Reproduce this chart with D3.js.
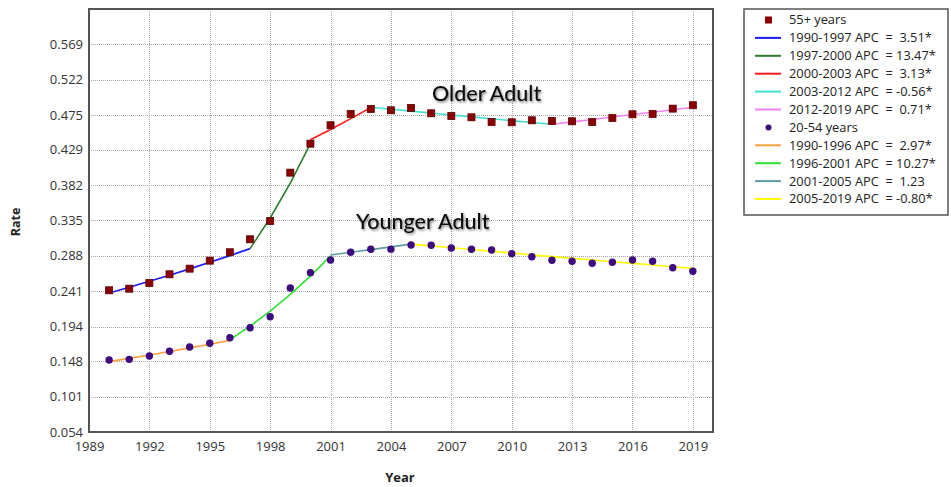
<!DOCTYPE html>
<html>
<head>
<meta charset="utf-8">
<script src="https://cdn.jsdelivr.net/npm/d3@7/dist/d3.min.js"></script>
<style>
  body { margin: 0; background: #fff; }
  svg { display: block; }
  text { font-family: "Open Sans", "Noto Sans", sans-serif; }
</style>
</head>
<body>
<svg id="chart" width="951" height="487"></svg>
<script>
// ---- Data ---------------------------------------------------------------
const years = [1990, 1991, 1992, 1993, 1994, 1995, 1996, 1997, 1998, 1999,
               2000, 2001, 2002, 2003, 2004, 2005, 2006, 2007, 2008, 2009,
               2010, 2011, 2012, 2013, 2014, 2015, 2016, 2017, 2018, 2019];

// Observed rates, 55+ years
const olderRates = [0.2422, 0.2443, 0.2519, 0.2634, 0.2709, 0.2815, 0.2927, 0.3099, 0.3342, 0.3984,
                    0.4369, 0.4613, 0.4763, 0.4830, 0.4812, 0.4843, 0.4772, 0.4736, 0.4719, 0.4657,
                    0.4653, 0.4679, 0.4670, 0.4666, 0.4657, 0.4710, 0.4759, 0.4763, 0.4834, 0.4879];

// Observed rates, 20-54 years
const youngerRates = [0.1496, 0.1505, 0.1549, 0.1612, 0.1669, 0.1718, 0.1792, 0.1925, 0.2071, 0.2452,
                      0.2656, 0.2824, 0.2927, 0.2966, 0.2968, 0.3024, 0.3019, 0.2984, 0.2966, 0.2957,
                      0.2908, 0.2868, 0.2820, 0.2807, 0.2780, 0.2794, 0.2824, 0.2807, 0.2722, 0.2674];

// Joinpoint segments, 55+ years
const olderSegYears = [[1990, 1997], [1997, 2000], [2000, 2003], [2003, 2012], [2012, 2019]];
const olderSegApc = ["3.51*", "13.47*", "3.13*", "-0.56*", "0.71*"];
const olderSegFit = [
  [0.2386, 0.2462, 0.2541, 0.2622, 0.2706, 0.2793, 0.2882, 0.2975],
  [0.2975, 0.3382, 0.3844, 0.4369],
  [0.4420, 0.4558, 0.4701, 0.4848],
  [0.4852, 0.4826, 0.4801, 0.4775, 0.4750, 0.4724, 0.4699, 0.4675, 0.4650, 0.4626],
  [0.4626, 0.4658, 0.4690, 0.4722, 0.4755, 0.4787, 0.4820, 0.4853]
];

// Joinpoint segments, 20-54 years
const youngerSegYears = [[1990, 1996], [1996, 2001], [2001, 2005], [2005, 2019]];
const youngerSegApc = ["2.97*", "10.27*", "1.23", "-0.80*"];
const youngerSegFit = [
  [0.1474, 0.1518, 0.1563, 0.1609, 0.1657, 0.1706, 0.1757],
  [0.1765, 0.1946, 0.2146, 0.2367, 0.2610, 0.2878],
  [0.2890, 0.2926, 0.2962, 0.2998, 0.3035],
  [0.3035, 0.3011, 0.2987, 0.2963, 0.2939, 0.2916, 0.2892, 0.2869, 0.2846, 0.2824,
   0.2801, 0.2779, 0.2757, 0.2735, 0.2713]
];

const xTicks = [1989, 1992, 1995, 1998, 2001, 2004, 2007, 2010, 2013, 2016, 2019];
const yTicks = [0.054, 0.101, 0.148, 0.194, 0.241, 0.288, 0.335, 0.382, 0.429, 0.475, 0.522, 0.569];
const xDomain = [1989, 2020];
const yDomain = [0.054, 0.6157];

const olderName = "55+ years";
const youngerName = "20-54 years";

// ---- Styles -------------------------------------------------------------
const olderLineColors = ["#1a1aff", "#2e7d2e", "#ff1a1a", "#40e0d0", "#ee82ee"];
const youngerLineColors = ["#ffa040", "#33e033", "#5f9ea0", "#ffff00"];
const olderMarkColor = "#8b0000";
const youngerMarkColor = "#3d0a80";

// ---- Layout -------------------------------------------------------------
const plot = { left: 89, top: 9, right: 713, bottom: 432 };
const svg = d3.select("#chart");

const x = d3.scaleLinear().domain(xDomain).range([plot.left, plot.right]);
const y = d3.scaleLinear().domain(yDomain).range([plot.bottom, plot.top]);

const defs = svg.append("defs");
const shadow = defs.append("filter").attr("id", "soft-shadow")
  .attr("x", "-10%").attr("y", "-30%").attr("width", "130%").attr("height", "170%");
shadow.append("feDropShadow").attr("dx", 1.2).attr("dy", 1.5)
  .attr("stdDeviation", 1.3).attr("flood-color", "#000").attr("flood-opacity", 0.5);

// plot background
svg.append("rect")
  .attr("x", plot.left).attr("y", plot.top)
  .attr("width", plot.right - plot.left).attr("height", plot.bottom - plot.top)
  .attr("fill", "#fff");

// grid
const grid = svg.append("g").attr("class", "grid");
grid.selectAll("line.gx").data(xTicks.filter(d => d > xDomain[0])).join("line")
  .attr("class", "gx")
  .attr("x1", d => Math.round(x(d)) + 0.5).attr("x2", d => Math.round(x(d)) + 0.5)
  .attr("y1", plot.top).attr("y2", plot.bottom)
  .attr("stroke", "#a8a8a8").attr("stroke-width", 1).attr("stroke-dasharray", "1,1");
grid.selectAll("line.gy").data(yTicks.filter(d => d > yDomain[0])).join("line")
  .attr("class", "gy")
  .attr("y1", d => Math.round(y(d)) + 0.5).attr("y2", d => Math.round(y(d)) + 0.5)
  .attr("x1", plot.left).attr("x2", plot.right)
  .attr("stroke", "#a8a8a8").attr("stroke-width", 1).attr("stroke-dasharray", "1,1");

// axes (labels only; frame drawn separately)
const xAxis = d3.axisBottom(x).tickValues(xTicks).tickFormat(d3.format("d")).tickSize(0).tickPadding(10);
const yAxis = d3.axisLeft(y).tickValues(yTicks).tickFormat(d3.format(".3f")).tickSize(0).tickPadding(6);

const gx = svg.append("g").attr("transform", `translate(0,${plot.bottom})`).call(xAxis);
const gy = svg.append("g").attr("transform", `translate(${plot.left},0)`).call(yAxis);
[gx, gy].forEach(g => {
  g.select(".domain").remove();
  g.selectAll("text").attr("fill", "#333").style("font-size", "13px")
    .style("font-family", "'Open Sans', 'Noto Sans', sans-serif");
});

// frame
svg.append("rect")
  .attr("x", plot.left).attr("y", plot.top)
  .attr("width", plot.right - plot.left).attr("height", plot.bottom - plot.top)
  .attr("fill", "none").attr("stroke", "#555").attr("stroke-width", 2);

// fitted segments
const line = d3.line().x(d => x(d[0])).y(d => y(d[1]));
function segPoints(range, fit) {
  const yrs = years.filter(t => t >= range[0] && t <= range[1]);
  return yrs.map((t, i) => [t, fit[i]]);
}
const fits = svg.append("g").attr("fill", "none").attr("stroke-width", 1.6);
olderSegYears.forEach((r, i) => {
  fits.append("path").datum(segPoints(r, olderSegFit[i])).attr("d", line).attr("stroke", olderLineColors[i]);
});
youngerSegYears.forEach((r, i) => {
  fits.append("path").datum(segPoints(r, youngerSegFit[i])).attr("d", line).attr("stroke", youngerLineColors[i]);
});

// observed points
const sq = 7;
svg.append("g").selectAll("rect").data(years.map((t, i) => [t, olderRates[i]])).join("rect")
  .attr("x", d => x(d[0]) - sq / 2).attr("y", d => y(d[1]) - sq / 2)
  .attr("width", sq).attr("height", sq)
  .attr("fill", olderMarkColor).attr("stroke", "#5a0000").attr("stroke-width", 0.8);
svg.append("g").selectAll("circle").data(years.map((t, i) => [t, youngerRates[i]])).join("circle")
  .attr("cx", d => x(d[0])).attr("cy", d => y(d[1])).attr("r", 3.7)
  .attr("fill", youngerMarkColor);

// group annotations
svg.append("text").attr("x", 432).attr("y", 101).text("Older Adult")
  .style("font-family", "Lato, 'Open Sans', sans-serif").style("font-size", "21.5px")
  .style("font-weight", 500).attr("fill", "#111").attr("filter", "url(#soft-shadow)");
svg.append("text").attr("x", 356).attr("y", 229).text("Younger Adult")
  .style("font-family", "Lato, 'Open Sans', sans-serif").style("font-size", "21.5px")
  .style("font-weight", 500).attr("fill", "#111").attr("filter", "url(#soft-shadow)");

// axis titles
svg.append("text").attr("x", 400).attr("y", 482).attr("text-anchor", "middle")
  .style("font-size", "13px").style("font-weight", 700).attr("fill", "#222").text("Year");
svg.append("text").attr("transform", "translate(20,222) rotate(-90)").attr("text-anchor", "middle")
  .style("font-size", "12.5px").style("font-weight", 700).attr("fill", "#222").text("Rate");

// legend
const lg = svg.append("g");
lg.append("rect").attr("x", 744).attr("y", 9).attr("width", 204).attr("height", 206)
  .attr("fill", "#fff").attr("stroke", "#555").attr("stroke-width", 1.5);
const rowH = 17.9, row0 = 20, textX = 789, lineX1 = 755, lineX2 = 781;
let row = 0;
function legendText(label, yy) {
  lg.append("text").attr("x", textX).attr("y", yy).attr("dy", "0.35em")
    .attr("xml:space", "preserve").style("white-space", "pre")
    .style("font-size", "12.8px").attr("fill", "#222").text(label);
}
function pad(v) { return v.startsWith("-") || v.length >= 6 ? " " + v : "  " + v; }

// 55+ group
let yy = row0 + rowH * row++;
lg.append("rect").attr("x", 765).attr("y", yy - 3.5).attr("width", 7).attr("height", 7).attr("fill", olderMarkColor);
legendText(olderName, yy);
olderSegYears.forEach((r, i) => {
  yy = row0 + rowH * row++;
  lg.append("line").attr("x1", lineX1).attr("x2", lineX2).attr("y1", yy).attr("y2", yy)
    .attr("stroke", olderLineColors[i]).attr("stroke-width", 2);
  legendText(`${r[0]}-${r[1]} APC  =${pad(olderSegApc[i])}`, yy);
});
// 20-54 group
yy = row0 + rowH * row++;
lg.append("circle").attr("cx", 768.5).attr("cy", yy).attr("r", 3).attr("fill", youngerMarkColor);
legendText(youngerName, yy);
youngerSegYears.forEach((r, i) => {
  yy = row0 + rowH * row++;
  lg.append("line").attr("x1", lineX1).attr("x2", lineX2).attr("y1", yy).attr("y2", yy)
    .attr("stroke", youngerLineColors[i]).attr("stroke-width", 2);
  legendText(`${r[0]}-${r[1]} APC  =${pad(youngerSegApc[i])}`, yy);
});
</script>
</body>
</html>
